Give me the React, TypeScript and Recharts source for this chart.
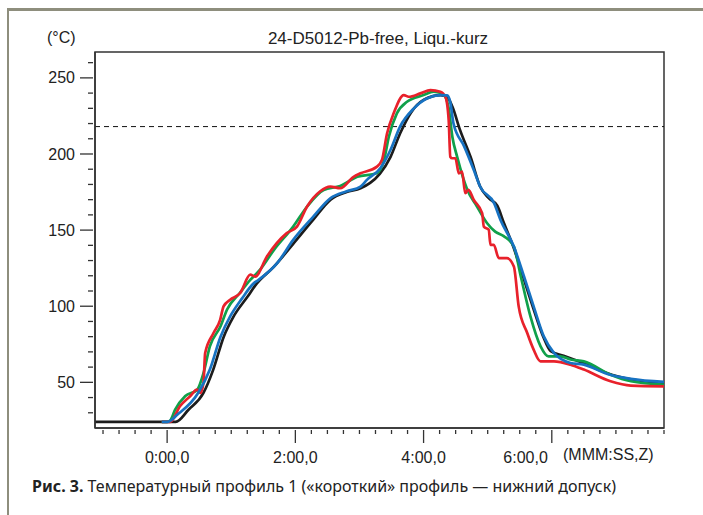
import { LineChart, Line, XAxis, YAxis, ReferenceLine, ReferenceArea } from 'recharts';

const blackTime = [-67.5, 8, 20, 34, 43, 53, 62, 75, 84, 100, 118, 137, 153, 168, 181, 190, 199, 209, 218, 228, 240, 256, 262, 267, 274, 284, 293, 301, 309, 315, 324, 334, 343, 352, 359, 371, 390, 412, 434, 465];
const blackTemp = [24, 24, 32, 43, 58, 80, 93, 106, 115, 126, 141, 157, 170, 175, 177.5, 181, 187, 198, 213.5, 227, 235.5, 238.7, 237.5, 231, 216, 198, 178.5, 171, 166, 155, 139, 117.5, 98, 80, 70.5, 67.5, 62.5, 56, 52, 49.5];

const greenTime = [-5, 0, 3, 7.5, 17, 28, 34, 40, 50, 56, 68, 78, 87, 100, 118, 131, 146.5, 162, 178, 196, 203, 207.5, 215, 224.5, 240, 249.5, 259, 263.5, 267, 271.5, 281, 290, 299.5, 307, 315, 324.5, 331, 340, 349.5, 357, 368, 377.5, 390, 415, 434, 465];
const greenTemp = [24, 24, 25, 32, 41, 45, 56, 73.6, 86.8, 97.7, 108.7, 117.4, 124, 137, 152.3, 165.5, 176.4, 179, 185, 187.3, 196, 211.3, 226.7, 234.3, 238.7, 241, 238.7, 230, 211, 198, 176.4, 165.5, 154.5, 149, 146, 139.2, 119.5, 93.3, 73.6, 67, 67, 65, 63.8, 55, 50.7, 48.5];

const redTime = [-5, 3, 12, 21.5, 28, 31, 34, 35.6, 43.4, 49.6, 52.8, 59, 68.4, 77.8, 82.4, 93.4, 112, 121.5, 131, 143.3, 152.7, 162, 174.5, 181, 196.4, 201, 205.8, 212, 221.5, 226, 237, 246.4, 255.7, 260.4, 263.5, 265, 266.7, 269.8, 273, 276, 279, 282, 287, 294.8, 296.4, 301, 302.6, 305.7, 310.4, 318, 324.5, 329, 337, 343, 349.4, 362, 377.5, 390, 415, 434, 465];
const redTemp = [24, 24, 34.3, 40.9, 45.2, 43, 49.6, 69.3, 82.4, 91, 99.9, 104.3, 108.7, 120.7, 119.5, 132.7, 148, 152.3, 165.5, 175.5, 178.6, 177.5, 185, 187.3, 191.7, 196, 213.5, 226.7, 238.7, 237.6, 239.8, 242, 240.9, 237.6, 222.3, 198.2, 197.2, 197.2, 187.3, 188.4, 174.2, 176.4, 169.8, 161.1, 152.3, 150.2, 140.3, 140.3, 131.6, 131.6, 126.1, 99.9, 82.4, 71.5, 63.8, 63.8, 61.6, 58.4, 50.7, 47.9, 47.4];

const blueTime = [-5, 0, 10, 29, 40, 50, 59, 70, 81, 85, 103, 118, 137, 153, 168, 181, 187, 199.5, 209, 218, 231, 243, 256, 262, 265, 268, 278, 287, 293, 306, 312, 324.5, 334, 343, 352.5, 362, 377.5, 390, 412, 434, 465];
const blueTemp = [24, 24, 29, 43, 58.4, 80, 93.3, 105, 115, 117, 128.3, 143.6, 159, 171, 175.5, 178.6, 183, 190.6, 202.6, 218, 230, 236.5, 238.7, 238.5, 234, 220, 205, 189.5, 178.5, 167.7, 156.7, 139.2, 119.5, 99.9, 80.2, 69.3, 62.7, 61.6, 55.5, 52.3, 50.3];

const xTicks = [-60, -45, -30, -15, 0, 15, 30, 45, 60, 75, 90, 105, 120, 135, 150, 165, 180, 195, 210, 225, 240, 255, 270, 285, 300, 315, 330, 345, 360, 375, 390, 405, 420, 435, 450, 465];
const xLabels: Record<number, string> = { 0: '0:00,0', 120: '2:00,0', 240: '4:00,0', 360: '6:00,0' };
const yTicks = [30, 40, 50, 60, 70, 80, 90, 100, 110, 120, 130, 140, 150, 160, 170, 180, 190, 200, 210, 220, 230, 240, 250, 260];
const liquidus = 218;

const toPoints = (t: number[], v: number[]) => t.map((time, i) => ({ t: time, v: v[i] }));

const FONT = '"Liberation Sans", Arial, sans-serif';

const XTick = ({ x, y, payload }: any) => {
  const label = xLabels[payload.value];
  // the last label sits left of its tick so it clears the unit text
  const last = payload.value === 360;
  return (
    <g>
      <line x1={x} x2={x} y1={y} y2={y + (label ? 13 : 4)} stroke="#333" strokeWidth={1.3} />
      {label && (
        <text x={last ? x - 4 : x} y={y + 33} textAnchor={last ? 'end' : 'middle'} fontSize={16} fontFamily={FONT} fill="#222">
          {label}
        </text>
      )}
    </g>
  );
};

const YTick = ({ x, y, payload }: any) => {
  const major = payload.value % 50 === 0;
  return (
    <g>
      <line x1={x - (major ? 13 : 5)} x2={x} y1={y} y2={y} stroke="#333" strokeWidth={1.3} />
      {major && (
        <text x={x - 18} y={y} dy="0.35em" textAnchor="end" fontSize={16} fontFamily={FONT} fill="#222">
          {payload.value}
        </text>
      )}
    </g>
  );
};

const series = [
  { key: 'black', color: '#1c1c1c', data: toPoints(blackTime, blackTemp) },
  { key: 'green', color: '#10a04a', data: toPoints(greenTime, greenTemp) },
  { key: 'red', color: '#e8212b', data: toPoints(redTime, redTemp) },
  { key: 'blue', color: '#1772c2', data: toPoints(blueTime, blueTemp) },
];

const App = () => {
  return (
    <div style={{ position: 'relative', width: 703, height: 515, overflow: 'hidden', fontFamily: FONT }}>
      <style>{'body{margin:0;overflow:hidden}'}</style>
      <div
        style={{
          position: 'absolute',
          left: 7,
          top: 8,
          width: 696,
          height: 507,
          borderTop: '3px solid #8e8e7d',
          borderLeft: '2px solid #8e8e7d',
          boxSizing: 'border-box',
        }}
      />
      <div style={{ position: 'absolute', left: 0, top: 0 }}>
        <LineChart width={703} height={515} margin={{ top: 52, right: 39, bottom: 0, left: 0 }}>
          <XAxis
            type="number"
            dataKey="t"
            domain={[-67.5, 465]}
            allowDataOverflow
            ticks={xTicks}
            interval={0}
            tick={<XTick />}
            tickLine={false}
            tickSize={0}
            axisLine={{ stroke: '#333', strokeWidth: 1.5 }}
            height={87}
          />
          <YAxis
            type="number"
            domain={[20, 267]}
            allowDataOverflow
            ticks={yTicks}
            interval={0}
            tick={<YTick />}
            tickLine={false}
            tickSize={0}
            axisLine={{ stroke: '#333', strokeWidth: 1.5 }}
            width={95}
          />
          <ReferenceArea x1={-67.5} x2={465} y1={20} y2={267} fill="none" stroke="#333" strokeWidth={1.5} />
          <ReferenceLine y={liquidus} stroke="#111" strokeDasharray="5 4" strokeWidth={1} />
          {series.map((s) => (
            <Line
              key={s.key}
              data={s.data}
              dataKey="v"
              type="monotone"
              stroke={s.color}
              strokeWidth={2.7}
              dot={false}
              isAnimationActive={false}
            />
          ))}
        </LineChart>
      </div>
      <div style={{ position: 'absolute', left: 378, top: 30, transform: 'translateX(-50%)', whiteSpace: 'nowrap', fontSize: 17, lineHeight: '17px', color: '#222' }}>
        24-D5012-Pb-free, Liqu.-kurz
      </div>
      <div style={{ position: 'absolute', left: 47, top: 30, fontSize: 16, lineHeight: '16px', color: '#222' }}>(°C)</div>
      <div style={{ position: 'absolute', left: 563, top: 447, fontSize: 16, lineHeight: '16px', color: '#222', whiteSpace: 'nowrap' }}>
        (MMM:SS,Z)
      </div>
      <div style={{ position: 'absolute', left: 32, top: 478, fontSize: 16, lineHeight: '17px', color: '#222', whiteSpace: 'nowrap', fontFamily: '"Noto Sans", sans-serif' }}>
        <b>Рис. 3.</b> Температурный профиль 1 («короткий» профиль — нижний допуск)
      </div>
    </div>
  );
};

export default App;
